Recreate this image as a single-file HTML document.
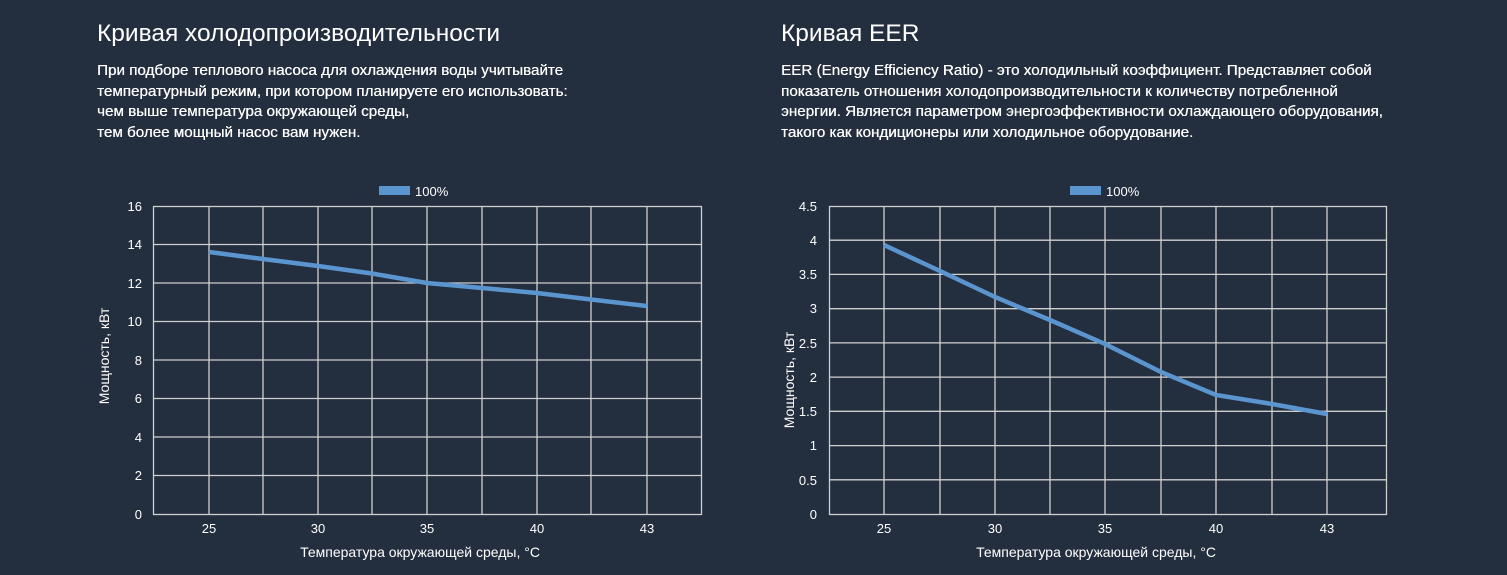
<!DOCTYPE html>
<html><head><meta charset="utf-8"><style>
body{margin:0;width:1507px;height:575px;background:#232e3e;overflow:hidden;font-family:"Liberation Sans",sans-serif;color:#fff;position:relative}
h2{position:absolute;margin:0;font-weight:normal;font-size:24.5px;top:20px}
p{position:absolute;margin:0;font-size:15.2px;line-height:20.7px;top:61px;font-weight:normal;text-shadow:0.3px 0 0 #fff}
svg{position:absolute;left:0;top:0}
</style></head><body>
<h2 style="left:97px">Кривая холодопроизводительности</h2>
<p style="left:97px">При подборе теплового насоса для охлаждения воды учитывайте<br>температурный режим, при котором планируете его использовать:<br>чем выше температура окружающей среды,<br>тем более мощный насос вам нужен.</p>
<h2 style="left:781px">Кривая EER</h2>
<p style="left:781px">EER (Energy Efficiency Ratio) - это холодильный коэффициент. Представляет собой<br>показатель отношения холодопроизводительности к количеству потребленной<br>энергии. Является параметром энергоэффективности охлаждающего оборудования,<br>такого как кондиционеры или холодильное оборудование.</p>
<svg width="1507" height="575" font-family="Liberation Sans, sans-serif" font-size="13" fill="#fff">
<g stroke="#d0d0d0" stroke-width="1.3" fill="none">
<rect x="153.5" y="206.5" width="548" height="308"/>
<path d="M209 206V514M263 206V514M318 206V514M372 206V514M427 206V514M482 206V514M537 206V514M591 206V514M647 206V514
M153 244.5H701M153 283H701M153 321.5H701M153 360H701M153 398.5H701M153 437H701M153 475.5H701"/>
<rect x="829.5" y="206.5" width="557" height="308"/>
<path d="M884 206V514M940 206V514M995 206V514M1050 206V514M1105 206V514M1161 206V514M1216 206V514M1272 206V514M1327 206V514
M829 240.2H1386M829 274.4H1386M829 308.7H1386M829 342.9H1386M829 377.1H1386M829 411.3H1386M829 445.6H1386M829 479.8H1386"/>
</g>
<polyline fill="none" stroke="#5b95d0" stroke-width="4.5" points="209,252 263,259 318,266 372,273.5 427,283 482,288 537,293 591,299.5 647,306"/>
<polyline fill="none" stroke="#5b95d0" stroke-width="4.5" points="884,245 940,271 995,297 1050,320 1105,344 1161,372 1216,395 1272,404 1327,414"/>
<rect x="379" y="186" width="31" height="9" fill="#5b95d0"/><text x="415" y="196">100%</text>
<rect x="1070" y="186" width="31" height="9" fill="#5b95d0"/><text x="1106" y="196">100%</text>
<g text-anchor="end">
<text x="142" y="211">16</text><text x="142" y="249">14</text><text x="142" y="288">12</text><text x="142" y="326">10</text><text x="142" y="365">8</text><text x="142" y="403">6</text><text x="142" y="442">4</text><text x="142" y="480">2</text><text x="142" y="519">0</text>
<text x="817" y="211">4.5</text><text x="817" y="245">4</text><text x="817" y="279">3.5</text><text x="817" y="313">3</text><text x="817" y="348">2.5</text><text x="817" y="382">2</text><text x="817" y="416">1.5</text><text x="817" y="450">1</text><text x="817" y="485">0.5</text><text x="817" y="519">0</text>
</g>
<g text-anchor="middle">
<text x="209" y="533">25</text><text x="318" y="533">30</text><text x="427" y="533">35</text><text x="537" y="533">40</text><text x="647" y="533">43</text>
<text x="884" y="533">25</text><text x="995" y="533">30</text><text x="1105" y="533">35</text><text x="1216" y="533">40</text><text x="1327" y="533">43</text>
<g font-size="14">
<text x="420" y="557">Температура окружающей среды, °C</text>
<text x="1096" y="557">Температура окружающей среды, °C</text>
<text transform="translate(109,356) rotate(-90)">Мощность, кВт</text>
<text transform="translate(794,380) rotate(-90)">Мощность, кВт</text>
</g>
</g>
</svg>
</body></html>
